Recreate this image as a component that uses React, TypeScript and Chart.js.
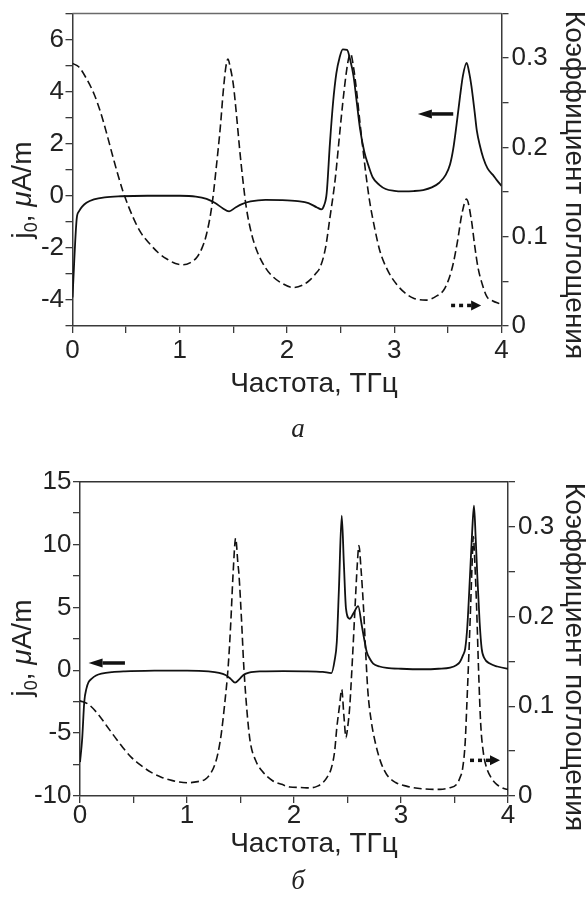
import React, { useEffect, useRef } from 'react';
import { Chart, registerables } from 'chart.js';

Chart.register(...registerables);

const SANS = '"Liberation Sans", Arial, sans-serif';
const SERIF = '"Liberation Serif", "Times New Roman", serif';
const INK = '#111';
const AXIS = '#3a3a3a';
const TEXT = '#222';

// ---------- Panel а ----------
const aJFreq = [0, 0.04, 0.06, 0.09, 0.13, 0.2, 0.3, 0.45, 0.7, 1.0, 1.15, 1.25, 1.33, 1.4, 1.46, 1.52, 1.58, 1.66, 1.8, 1.95, 2.1, 2.2, 2.28, 2.32, 2.345, 2.37, 2.4, 2.43, 2.46, 2.49, 2.52, 2.56, 2.59, 2.62, 2.65, 2.68, 2.72, 2.76, 2.8, 2.86, 2.92, 3.0, 3.08, 3.18, 3.27, 3.35, 3.42, 3.48, 3.52, 3.55, 3.58, 3.61, 3.64, 3.675, 3.7, 3.72, 3.75, 3.77, 3.8, 3.83, 3.87, 3.92, 3.96, 4.0];
const aJ = [-3.9, -0.85, -0.6, -0.42, -0.27, -0.14, -0.06, -0.02, 0, 0, -0.03, -0.12, -0.28, -0.48, -0.6, -0.45, -0.32, -0.22, -0.16, -0.17, -0.21, -0.28, -0.45, -0.52, -0.38, 0.1, 2.0, 3.6, 4.7, 5.3, 5.62, 5.6, 5.2, 4.6, 3.6, 2.6, 1.7, 1.15, 0.7, 0.42, 0.26, 0.19, 0.17, 0.18, 0.22, 0.32, 0.5, 0.8, 1.2, 1.8, 2.7, 3.7, 4.6, 5.1, 4.7, 4.2, 3.2, 2.5, 1.9, 1.45, 1.05, 0.8, 0.58, 0.38];
const aKFreq = [0, 0.06, 0.13, 0.2, 0.26, 0.32, 0.38, 0.47, 0.567, 0.64, 0.72, 0.8, 0.88, 0.96, 1.03, 1.1, 1.16, 1.21, 1.25, 1.3, 1.34, 1.38, 1.405, 1.43, 1.45, 1.47, 1.5, 1.53, 1.56, 1.59, 1.62, 1.67, 1.72, 1.8, 1.87, 1.95, 2.06, 2.15, 2.21, 2.27, 2.31, 2.36, 2.4, 2.45, 2.49, 2.52, 2.55, 2.575, 2.593, 2.62, 2.65, 2.68, 2.71, 2.74, 2.77, 2.82, 2.866, 2.94, 3.02, 3.1, 3.18, 3.3, 3.4, 3.46, 3.51, 3.55, 3.59, 3.63, 3.674, 3.72, 3.75, 3.78, 3.82, 3.865, 3.92, 3.98, 4.0];
const aK = [0.294, 0.29, 0.277, 0.26, 0.24, 0.215, 0.188, 0.151, 0.121, 0.104, 0.092, 0.082, 0.075, 0.07, 0.0685, 0.071, 0.077, 0.088, 0.103, 0.135, 0.177, 0.225, 0.262, 0.29, 0.299, 0.29, 0.27, 0.235, 0.196, 0.162, 0.133, 0.103, 0.084, 0.065, 0.055, 0.048, 0.043, 0.046, 0.051, 0.059, 0.066, 0.088, 0.121, 0.165, 0.214, 0.25, 0.281, 0.3, 0.305, 0.29, 0.262, 0.228, 0.196, 0.166, 0.14, 0.108, 0.084, 0.062, 0.047, 0.037, 0.031, 0.029, 0.034, 0.04, 0.053, 0.07, 0.095, 0.125, 0.142, 0.118, 0.09, 0.066, 0.047, 0.0326, 0.028, 0.025, 0.024];
const aJArrowX = [3.55, 3.22]; // tail -> head
const aJArrowY = 3.14;
const aKArrowX = [3.53, 3.81];
const aKArrowY = 0.023;

// ---------- Panel б ----------
const bJFreq = [0, 0.02, 0.04, 0.06, 0.08, 0.11, 0.15, 0.2, 0.3, 0.42, 0.7, 1.0, 1.2, 1.3, 1.36, 1.41, 1.449, 1.49, 1.53, 1.58, 1.7, 1.9, 2.1, 2.27, 2.35, 2.38, 2.4, 2.42, 2.446, 2.466, 2.486, 2.52, 2.56, 2.6, 2.633, 2.66, 2.68, 2.71, 2.74, 2.8, 2.866, 3.0, 3.21, 3.35, 3.46, 3.52, 3.55, 3.58, 3.6, 3.62, 3.645, 3.665, 3.682, 3.698, 3.713, 3.735, 3.754, 3.78, 3.83, 3.9, 3.99, 4.0];
const bJ = [-7.3, -5.5, -2.5, -1.46, -0.95, -0.66, -0.42, -0.27, -0.14, -0.08, -0.03, -0.02, -0.08, -0.2, -0.38, -0.7, -0.98, -0.7, -0.35, -0.18, -0.09, -0.07, -0.08, -0.13, -0.22, 0.8, 2.25, 6.5, 12.3, 8.5, 4.9, 4.1, 4.6, 5.1, 3.58, 2.3, 1.46, 0.9, 0.53, 0.3, 0.19, 0.12, 0.08, 0.12, 0.21, 0.42, 0.66, 1.2, 1.72, 3.5, 7.56, 11.0, 13.1, 10.5, 7.56, 3.8, 1.72, 0.95, 0.53, 0.3, 0.13, 0.12];
const bKFreq = [0, 0.08, 0.17, 0.25, 0.33, 0.4, 0.48, 0.57, 0.67, 0.76, 0.857, 0.93, 1.01, 1.1, 1.17, 1.22, 1.26, 1.29, 1.32, 1.35, 1.386, 1.41, 1.43, 1.455, 1.475, 1.486, 1.51, 1.53, 1.56, 1.59, 1.64, 1.7, 1.8, 1.885, 1.96, 2.056, 2.15, 2.22, 2.27, 2.31, 2.35, 2.38, 2.4, 2.425, 2.446, 2.466, 2.486, 2.5, 2.52, 2.545, 2.57, 2.59, 2.607, 2.625, 2.65, 2.67, 2.69, 2.72, 2.757, 2.81, 2.866, 2.95, 3.05, 3.2, 3.364, 3.45, 3.52, 3.55, 3.577, 3.6, 3.614, 3.635, 3.65, 3.665, 3.676, 3.69, 3.707, 3.725, 3.745, 3.77, 3.8, 3.85, 3.894, 3.95, 3.99, 4.0];
const bK = [0.106, 0.102, 0.091, 0.078, 0.065, 0.054, 0.043, 0.034, 0.026, 0.021, 0.0174, 0.0155, 0.0148, 0.016, 0.0185, 0.025, 0.035, 0.048, 0.069, 0.1, 0.146, 0.195, 0.246, 0.287, 0.26, 0.246, 0.195, 0.146, 0.095, 0.061, 0.04, 0.028, 0.017, 0.013, 0.01, 0.0095, 0.009, 0.011, 0.0148, 0.021, 0.0315, 0.05, 0.076, 0.1, 0.1186, 0.09, 0.065, 0.075, 0.098, 0.15, 0.209, 0.255, 0.279, 0.255, 0.209, 0.16, 0.117, 0.085, 0.061, 0.038, 0.024, 0.015, 0.011, 0.008, 0.0074, 0.009, 0.013, 0.02, 0.0315, 0.06, 0.098, 0.16, 0.209, 0.26, 0.289, 0.26, 0.209, 0.14, 0.08, 0.048, 0.0315, 0.019, 0.013, 0.009, 0.0074, 0.007];
const bJArrowX = [0.42, 0.08];
const bJArrowY = 0.58;
const bKArrowX = [3.645, 3.925];
const bKArrowY = 0.0397;

// ---------- Text ----------
const xTitle = 'Частота, ТГц';
const rightTitle = 'Коэффициент поглощения';
const freqTicks = [0, 1, 2, 3, 4];
const absTickLabels = ['0', '0.1', '0.2', '0.3'];

type Panel = {
  jFreq: number[]; j: number[]; kFreq: number[]; k: number[];
  jMin: number; jMax: number; jStep: number; jEvery: number;
  jArrowX: number[]; jArrowY: number; kArrowX: number[]; kArrowY: number;
  caption: string;
  padTop: number; xHeight: number; yWidth: number; y1Width: number; xPad: number;
  topColor: string;
  leftT: [number, number]; rightT: [number, number]; xT: [number, number]; capT: [number, number];
};

const panels: Panel[] = [
  {
    jFreq: aJFreq, j: aJ, kFreq: aKFreq, k: aK,
    jMin: -5, jMax: 7, jStep: 1, jEvery: 2,
    jArrowX: aJArrowX, jArrowY: aJArrowY, kArrowX: aKArrowX, kArrowY: aKArrowY,
    caption: 'а',
    padTop: 11.7, xHeight: 124, yWidth: 72.5, y1Width: 85.5, xPad: 7,
    topColor: '#6a6a6a',
    leftT: [31, 190], rightT: [566, 185], xT: [314, 392], capT: [298, 437],
  },
  {
    jFreq: bJFreq, j: bJ, kFreq: bKFreq, k: bK,
    jMin: -10, jMax: 15, jStep: 2.5, jEvery: 5,
    jArrowX: bJArrowX, jArrowY: bJArrowY, kArrowX: bKArrowX, kArrowY: bKArrowY,
    caption: 'б',
    padTop: 31.7, xHeight: 104, yWidth: 80, y1Width: 79, xPad: 2,
    topColor: '#333',
    leftT: [31, 198], rightT: [566, 207], xT: [314, 402], capT: [298, 439],
  },
];

function drawArrow(ctx: CanvasRenderingContext2D, x1: number, x2: number, y: number, dotted: boolean) {
  const dir = Math.sign(x2 - x1);
  const headLen = dotted ? 10 : 14;
  const headW = dotted ? 5 : 4.5;
  ctx.save();
  ctx.strokeStyle = INK;
  ctx.fillStyle = INK;
  ctx.lineWidth = 3.5;
  ctx.setLineDash(dotted ? [4, 4] : []);
  ctx.beginPath();
  ctx.moveTo(x1, y);
  ctx.lineTo(x2 - dir * headLen, y);
  ctx.stroke();
  ctx.setLineDash([]);
  ctx.beginPath();
  ctx.moveTo(x2, y);
  ctx.lineTo(x2 - dir * headLen, y - headW);
  ctx.lineTo(x2 - dir * headLen, y + headW);
  ctx.closePath();
  ctx.fill();
  ctx.restore();
}

type Part = { t: string; font: string; dy?: number };
function drawRich(ctx: CanvasRenderingContext2D, parts: Part[], x: number, y: number, rot: number) {
  ctx.save();
  ctx.translate(x, y);
  ctx.rotate(rot);
  ctx.textBaseline = 'alphabetic';
  ctx.textAlign = 'left';
  let total = 0;
  for (const p of parts) { ctx.font = p.font; total += ctx.measureText(p.t).width; }
  let cx = -total / 2;
  for (const p of parts) {
    ctx.font = p.font;
    ctx.fillText(p.t, cx, p.dy || 0);
    cx += ctx.measureText(p.t).width;
  }
  ctx.restore();
}

const decorPlugin = {
  id: 'decor',
  afterDraw(chart: any) {
    const p: Panel = chart.options.plugins.decor.panel;
    const { ctx, chartArea: ca, scales } = chart;
    ctx.save();
    // top frame line
    ctx.strokeStyle = p.topColor;
    ctx.lineWidth = 1.5;
    ctx.beginPath();
    ctx.moveTo(ca.left, ca.top);
    ctx.lineTo(ca.right, ca.top);
    ctx.stroke();
    // arrows
    drawArrow(ctx, scales.x.getPixelForValue(p.jArrowX[0]), scales.x.getPixelForValue(p.jArrowX[1]), scales.y.getPixelForValue(p.jArrowY), false);
    drawArrow(ctx, scales.x.getPixelForValue(p.kArrowX[0]), scales.x.getPixelForValue(p.kArrowX[1]), scales.y1.getPixelForValue(p.kArrowY), true);
    // titles
    ctx.fillStyle = TEXT;
    const f = `28px ${SANS}`;
    drawRich(ctx, [
      { t: 'j', font: f },
      { t: '0', font: `18px ${SANS}`, dy: 6 },
      { t: ', ', font: f },
      { t: 'μ', font: `italic 28px ${SANS}` },
      { t: 'A/m', font: f },
    ], p.leftT[0], p.leftT[1], -Math.PI / 2);
    drawRich(ctx, [{ t: rightTitle, font: f }], p.rightT[0], p.rightT[1], Math.PI / 2);
    drawRich(ctx, [{ t: xTitle, font: f }], p.xT[0], p.xT[1], 0);
    drawRich(ctx, [{ t: p.caption, font: `italic 27px ${SERIF}` }], p.capT[0], p.capT[1], 0);
    ctx.restore();
  },
};

function buildChart(canvas: HTMLCanvasElement, p: Panel) {
  const tickFont = { family: SANS, size: 26, lineHeight: 0.8 };
  const grid = { drawOnChartArea: false, drawTicks: true, tickLength: 7, color: AXIS, lineWidth: 1.3 };
  const border = { display: true, color: AXIS, width: 1.5 };
  return new Chart(canvas, {
    type: 'line',
    data: {
      datasets: [
        {
          data: p.jFreq.map((x, i) => ({ x, y: p.j[i] })),
          yAxisID: 'y',
          borderColor: INK,
          borderWidth: 1.8,
          pointRadius: 0,
          cubicInterpolationMode: 'monotone',
          fill: false,
        },
        {
          data: p.kFreq.map((x, i) => ({ x, y: p.k[i] })),
          yAxisID: 'y1',
          borderColor: INK,
          borderWidth: 1.6,
          borderDash: [8, 4],
          pointRadius: 0,
          cubicInterpolationMode: 'monotone',
          fill: false,
        },
      ],
    },
    options: {
      responsive: false,
      maintainAspectRatio: false,
      animation: false,
      devicePixelRatio: 1,
      layout: { padding: { top: p.padTop, left: 0, right: 0, bottom: 0 } },
      plugins: {
        legend: { display: false },
        tooltip: { enabled: false },
        decor: { panel: p },
      } as any,
      scales: {
        x: {
          type: 'linear', position: 'bottom', min: 0, max: 4,
          ticks: {
            stepSize: 0.5, autoSkip: false, maxRotation: 0, padding: p.xPad,
            font: tickFont, color: TEXT,
            callback: (v: any) => (freqTicks.includes(v) ? String(v) : ''),
          },
          grid, border,
          afterFit: (s: any) => { s.height = p.xHeight; },
        },
        y: {
          type: 'linear', position: 'left', min: p.jMin, max: p.jMax,
          ticks: {
            stepSize: p.jStep, autoSkip: false, padding: 1.5,
            font: tickFont, color: TEXT,
            callback: (v: any) => (Number.isInteger(v) && v % p.jEvery === 0 ? String(v) : ''),
          },
          grid, border,
          afterFit: (s: any) => { s.width = p.yWidth; },
        },
        y1: {
          type: 'linear', position: 'right', min: 0, max: 0.35,
          ticks: {
            stepSize: 0.05, autoSkip: false, padding: 3,
            font: tickFont, color: TEXT,
            callback: (v: any) => {
              const r = Math.round(v * 100);
              return r % 10 === 0 ? absTickLabels[r / 10] ?? '' : '';
            },
          },
          grid, border,
          afterFit: (s: any) => { s.width = p.y1Width; },
        },
      },
    } as any,
    plugins: [decorPlugin],
  });
}

function PanelCanvas({ p, top }: { p: Panel; top: number }) {
  const ref = useRef<HTMLCanvasElement>(null);
  useEffect(() => {
    if (!ref.current) return;
    const chart = buildChart(ref.current, p);
    return () => chart.destroy();
  }, [p]);
  return (
    <canvas
      ref={ref}
      width={587}
      height={450}
      style={{ position: 'absolute', left: 0, top, width: 587, height: 450, display: 'block' }}
    />
  );
}

export default function App() {
  return (
    <div style={{ position: 'absolute', left: 0, top: 0, width: 587, height: 900, background: '#fff', overflow: 'hidden' }}>
      <PanelCanvas p={panels[0]} top={0} />
      <PanelCanvas p={panels[1]} top={450} />
    </div>
  );
}
